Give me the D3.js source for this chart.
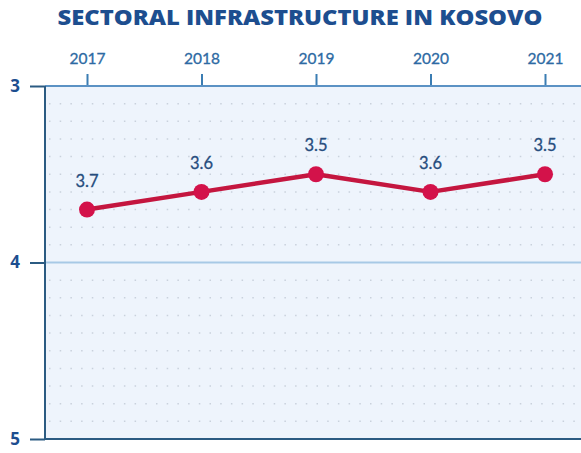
<!DOCTYPE html>
<html>
<head>
<meta charset="utf-8">
<script src="https://cdn.jsdelivr.net/npm/d3@7"></script>
<style>
  html, body { margin: 0; padding: 0; background: #ffffff; }
  svg { display: block; }
</style>
</head>
<body>
<svg id="chart" width="581" height="453"></svg>
<script>
// Kosovo sectoral infrastructure score by year (lower is better, axis inverted)
const years = [2017, 2018, 2019, 2020, 2021];
const scores = [3.7, 3.6, 3.5, 3.6, 3.5];
const yTicks = [3, 4, 5];
const title = "SECTORAL INFRASTRUCTURE IN KOSOVO";

const W = 581, H = 453;
const plot = { left: 45, top: 86, right: 581, bottom: 439 };

const svg = d3.select("#chart");

const x = d3.scalePoint().domain(years).range([87, 545]);
const y = d3.scaleLinear().domain([3, 5]).range([plot.top, plot.bottom]);

// Title
svg.append("text")
  .attr("x", 300).attr("y", 25)
  .attr("text-anchor", "middle")
  .attr("font-family", "'Open Sans', sans-serif")
  .attr("font-weight", 800)
  .attr("font-size", 21)
  .attr("fill", "#1d4e8f")
  .attr("textLength", 485)
  .attr("lengthAdjust", "spacingAndGlyphs")
  .text(title);

// Plot background
svg.append("rect")
  .attr("x", plot.left).attr("y", plot.top)
  .attr("width", plot.right - plot.left).attr("height", plot.bottom - plot.top)
  .attr("fill", "#eef4fc");

// Dotted minor grid every 0.1
const minor = d3.range(31, 50).map(v => v / 10).filter(v => Math.abs(v - 4) > 1e-6);
svg.append("g").selectAll("line").data(minor).join("line")
  .attr("x1", plot.left + 4).attr("x2", plot.right)
  .attr("y1", d => y(d)).attr("y2", d => y(d))
  .attr("stroke", "#c9d1dc")
  .attr("stroke-width", 1.5)
  .attr("stroke-dasharray", "1.5,9.2");

// Major gridline at 4
svg.append("line")
  .attr("x1", plot.left).attr("x2", plot.right)
  .attr("y1", y(4)).attr("y2", y(4))
  .attr("stroke", "#a7c9e6").attr("stroke-width", 2);

// Top axis (years)
const topAxis = d3.axisTop(x).tickSize(12).tickPadding(10);
const gTop = svg.append("g")
  .attr("transform", `translate(0,${plot.top})`)
  .call(topAxis);
gTop.select(".domain").remove();
gTop.selectAll(".tick line").attr("stroke", "#3b7db3").attr("stroke-width", 2);
gTop.selectAll(".tick text")
  .attr("font-family", "Lato, sans-serif")
  .attr("font-size", 15.5)
  .attr("fill", "#2d6aa3")
  .attr("stroke", "#2d6aa3").attr("stroke-width", 0.3);
svg.append("line")
  .attr("x1", plot.left).attr("x2", plot.right)
  .attr("y1", plot.top).attr("y2", plot.top)
  .attr("stroke", "#5b92c4").attr("stroke-width", 2);

// Bottom border
svg.append("line")
  .attr("x1", plot.left).attr("x2", plot.right)
  .attr("y1", plot.bottom).attr("y2", plot.bottom)
  .attr("stroke", "#2b5b82").attr("stroke-width", 2);

// Left axis
const leftAxis = d3.axisLeft(y).tickValues(yTicks).tickSize(15).tickPadding(10)
  .tickFormat(d3.format("d"));
const gLeft = svg.append("g")
  .attr("transform", `translate(${plot.left},0)`)
  .call(leftAxis);
gLeft.select(".domain").attr("stroke", "#2b5b82").attr("stroke-width", 2)
  .attr("d", `M0,${plot.top}V${plot.bottom}`);
gLeft.selectAll(".tick line").attr("stroke", "#2b5b82").attr("stroke-width", 2);
gLeft.selectAll(".tick text")
  .attr("font-family", "'Open Sans', sans-serif")
  .attr("font-weight", 700)
  .attr("font-size", 17)
  .attr("fill", "#1d4e8f");

// Series line
const data = years.map((yr, i) => ({ year: yr, value: scores[i] }));
svg.append("path")
  .datum(data)
  .attr("fill", "none")
  .attr("stroke", "#c4163f")
  .attr("stroke-width", 4.5)
  .attr("stroke-linejoin", "round")
  .attr("d", d3.line().x(d => x(d.year)).y(d => y(d.value)));

// Markers
svg.append("g").selectAll("circle").data(data).join("circle")
  .attr("cx", d => x(d.year)).attr("cy", d => y(d.value))
  .attr("r", 8)
  .attr("fill", "#d3124a");

// Value labels
svg.append("g").selectAll("text").data(data).join("text")
  .attr("x", d => x(d.year)).attr("y", d => y(d.value) - 23)
  .attr("text-anchor", "middle")
  .attr("font-family", "Lato, sans-serif")
  .attr("font-size", 16.5)
  .attr("fill", "#274d7e")
  .attr("stroke", "#274d7e").attr("stroke-width", 0.3)
  .text(d => d3.format(".1f")(d.value));
</script>
</body>
</html>
